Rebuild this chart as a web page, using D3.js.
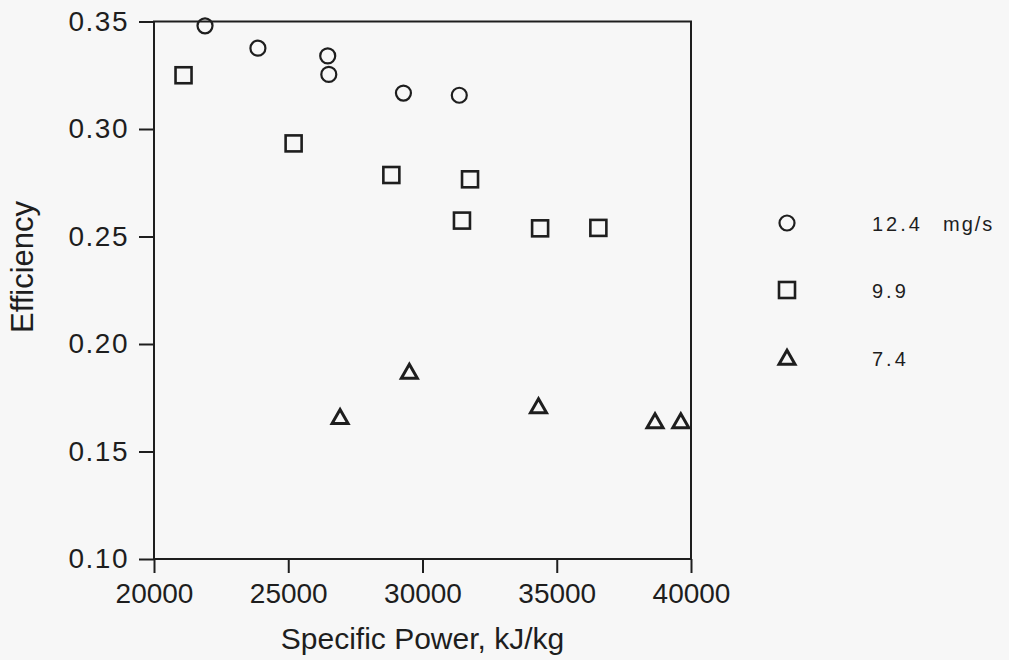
<!DOCTYPE html>
<html>
<head>
<meta charset="utf-8">
<script src="https://cdn.jsdelivr.net/npm/d3@7"></script>
<style>
  body { margin: 0; background: #f7f7f7; }
  svg { display: block; font-family: "Liberation Sans", Arial, Helvetica, sans-serif; }
</style>
</head>
<body>
<svg id="chart" width="1009" height="660"></svg>
<script>
// efficiency vs specific power, three flow rates
const seriesNames = ["12.4", "9.9", "7.4"];
const seriesUnit = "mg/s";

const circlePower = [21900, 23870, 26470, 26510, 29290, 31370];
const circleEff = [0.348, 0.3376, 0.334, 0.3254, 0.3167, 0.3157];

const squarePower = [21100, 25200, 28840, 31770, 31470, 34380, 36550];
const squareEff = [0.325, 0.2933, 0.2786, 0.2766, 0.2574, 0.2538, 0.254];

const trianglePower = [26930, 29510, 34320, 38660, 39620];
const triangleEff = [0.166, 0.187, 0.171, 0.164, 0.164];

const xTicks = [20000, 25000, 30000, 35000, 40000];
const yTicks = [0.10, 0.15, 0.20, 0.25, 0.30, 0.35];

const ink = "#1e1e1e";

const svg = d3.select("#chart");

const x = d3.scaleLinear().domain([20000, 40000]).range([154, 691]);
const y = d3.scaleLinear().domain([0.10, 0.35]).range([559, 21.5]);

// frame round the plot
svg.append("rect")
    .attr("x", x.range()[0])
    .attr("y", y.range()[1])
    .attr("width", x.range()[1] - x.range()[0])
    .attr("height", y.range()[0] - y.range()[1])
    .attr("fill", "none")
    .attr("stroke", ink)
    .attr("stroke-width", 2);

const xAxis = svg.append("g")
    .attr("transform", `translate(0,${y.range()[0]})`)
    .call(d3.axisBottom(x).tickValues(xTicks).tickSize(14).tickSizeOuter(0)
        .tickPadding(10).tickFormat(d3.format("d")));

const yAxis = svg.append("g")
    .attr("transform", `translate(${x.range()[0]},0)`)
    .call(d3.axisLeft(y).tickValues(yTicks).tickSize(15).tickSizeOuter(0)
        .tickPadding(10).tickFormat(d3.format(".2f")));

[xAxis, yAxis].forEach(g => {
    g.select(".domain").remove();
    g.selectAll(".tick line").attr("stroke", ink).attr("stroke-width", 2);
    g.selectAll(".tick text")
        .attr("fill", ink)
        .style("font-size", "28px");
});
yAxis.selectAll(".tick text").style("letter-spacing", "1.5px");

// axis titles
svg.append("text")
    .attr("x", (x.range()[0] + x.range()[1]) / 2)
    .attr("y", 649)
    .attr("text-anchor", "middle")
    .attr("fill", ink)
    .style("font-size", "30px")
    .text("Specific Power, kJ/kg");

svg.append("text")
    .attr("transform", "translate(33,267) rotate(-90)")
    .attr("text-anchor", "middle")
    .attr("fill", ink)
    .style("font-size", "31px")
    .text("Efficiency");

// marker shapes
function drawCircle(g, cx, cy) {
    g.append("circle")
        .attr("cx", cx).attr("cy", cy).attr("r", 7.5)
        .attr("fill", "none").attr("stroke", ink).attr("stroke-width", 2.2);
}

function drawSquare(g, cx, cy) {
    g.append("rect")
        .attr("x", cx - 8).attr("y", cy - 8)
        .attr("width", 16).attr("height", 16)
        .attr("fill", "none").attr("stroke", ink).attr("stroke-width", 2.6);
}

function drawTriangle(g, cx, cy) {
    const w = 8, h = 14;
    g.append("path")
        .attr("d", `M${cx},${cy - h * 0.55}L${cx + w},${cy + h * 0.45}L${cx - w},${cy + h * 0.45}Z`)
        .attr("fill", "none").attr("stroke", ink).attr("stroke-width", 3)
        .attr("stroke-linejoin", "miter");
}

const marks = svg.append("g");
circlePower.forEach((p, i) => drawCircle(marks, x(p), y(circleEff[i])));
squarePower.forEach((p, i) => drawSquare(marks, x(p), y(squareEff[i])));
trianglePower.forEach((p, i) => drawTriangle(marks, x(p), y(triangleEff[i])));

// legend
const legendShapes = [drawCircle, drawSquare, drawTriangle];
const legendY = [223, 290, 358];
const legend = svg.append("g");
seriesNames.forEach((name, i) => {
    legendShapes[i](legend, 787, legendY[i]);
    legend.append("text")
        .attr("x", 872)
        .attr("y", legendY[i] + 8)
        .attr("fill", ink)
        .style("font-size", "20px")
        .style("letter-spacing", "3px")
        .text(name);
});
legend.append("text")
    .attr("x", 943)
    .attr("y", legendY[0] + 8)
    .attr("fill", ink)
    .style("font-size", "20px")
    .style("letter-spacing", "2px")
    .text(seriesUnit);
</script>
</body>
</html>
